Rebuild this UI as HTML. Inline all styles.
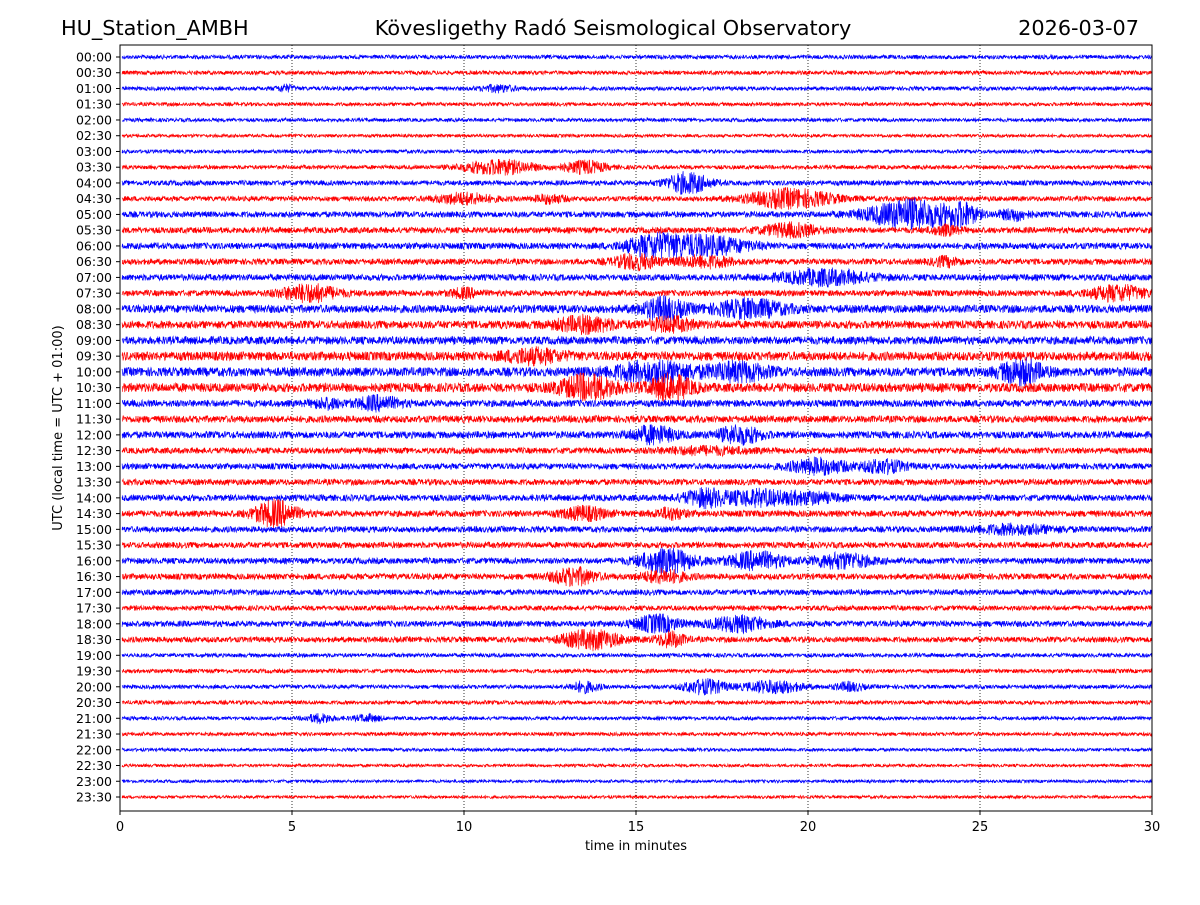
<!DOCTYPE html>
<html><head><meta charset="utf-8"><style>
body{margin:0;background:#fff;}
svg text{font-family:"DejaVu Sans","Liberation Sans",sans-serif;}
</style></head><body>
<svg id="c" width="1200" height="900" xmlns="http://www.w3.org/2000/svg">
<rect width="1200" height="900" fill="#fff"/>
<text x="61" y="35" font-size="20.8">HU_Station_AMBH</text>
<text x="613" y="35" font-size="20.8" text-anchor="middle">Kövesligethy Radó Seismological Observatory</text>
<text x="1139" y="35" font-size="20.8" text-anchor="end">2026-03-07</text>
<g id="grid"></g>
<g id="traces"></g>
<rect x="120" y="45" width="1032" height="766" fill="none" stroke="#000" stroke-width="1"/>
<g id="yticks"></g>
<g id="xticks"></g>
<text x="636" y="850" font-size="13" text-anchor="middle">time in minutes</text>
<text transform="translate(62,428) rotate(-90)" font-size="13" text-anchor="middle">UTC (local time = UTC + 01:00)</text>
</svg>
<script>
const rowLabels=["00:00","00:30","01:00","01:30","02:00","02:30","03:00","03:30","04:00","04:30","05:00","05:30","06:00","06:30","07:00","07:30","08:00","08:30","09:00","09:30","10:00","10:30","11:00","11:30","12:00","12:30","13:00","13:30","14:00","14:30","15:00","15:30","16:00","16:30","17:00","17:30","18:00","18:30","19:00","19:30","20:00","20:30","21:00","21:30","22:00","22:30","23:00","23:30"];
const xTicks=[0,5,10,15,20,25,30];
const baseAmp=[2,2,2,1.8,1.8,1.6,1.8,2,2.5,2.5,3,3,3.2,3,3.2,3,4,4,4,4.5,4.5,4.5,3.5,3.5,3.5,3,3,3,3.2,3.2,3,3,3,3,2.8,2.5,3,2.8,2,2,2,2,1.8,1.8,1.6,1.5,1.5,1.5];
// events: [row, centerMinute, durationMinutes, amplitudePx]
const events=[[2,4.8,0.6,3],[2,11,1.2,3],[7,11,2.5,7],[7,13.5,1.5,6],[8,16.5,1.5,10],[9,10,2,5],[9,12.5,1,4],[9,19.5,3,9],[10,23,3,14],[10,24.5,1,9],[10,26,1,5],[11,19.5,2,6],[11,24,1,4],[12,15.5,2,9],[12,17,3,9],[13,15,1.5,7],[13,17,2,5],[13,24,1,4],[14,20.5,3,7],[15,5.5,2,8],[15,10,1,4],[15,29,2,7],[16,15.8,1.5,10],[16,18.3,2.5,8],[17,13.5,2,7],[17,16,1.5,6],[19,12,2,6],[20,15.5,3,9],[20,18,2,8],[20,26.2,1.5,11],[21,13.6,2,11],[21,16,1.5,11],[22,7.5,1.5,6],[22,6,1,4],[24,15.5,1.5,8],[24,18,1.5,8],[25,17,3,3],[26,20.3,2,7],[26,22.2,1.5,6],[28,17,1.5,8],[28,18.5,2,7],[28,20,2,5],[29,4.5,1.5,12],[29,13.5,1.5,6],[29,16,1,5],[30,26,3,4],[32,15.9,2,11],[32,18.5,2,8],[32,21,2,7],[33,13.2,1.5,8],[33,15.8,1.5,6],[36,15.6,1.5,8],[36,18,2,7],[37,13.7,2,9],[37,16,1,7],[40,13.5,1,5],[40,17,1.5,7],[40,19,2,6],[40,21.2,1,4],[42,5.8,1,4],[42,7.2,1,3]];

const X0=120,X1=1152,Y0=57,Y1=797,XMAX=30;
const xOf=m=>X0+m/XMAX*(X1-X0);
const yOf=r=>Y0+r*(Y1-Y0)/(rowLabels.length-1);
const NS="http://www.w3.org/2000/svg";
function mk(tag,attrs,parent){const e=document.createElementNS(NS,tag);for(const k in attrs)e.setAttribute(k,attrs[k]);parent.appendChild(e);return e;}
const grid=document.getElementById('grid'),tr=document.getElementById('traces'),yt=document.getElementById('yticks'),xt=document.getElementById('xticks');
xTicks.forEach(t=>{
  if(t>0&&t<XMAX){const l=mk('line',{x1:xOf(t),x2:xOf(t),y1:45,y2:811,stroke:'#000','stroke-width':0.8,'stroke-dasharray':'1,2'},grid);
  
  }
  const tk=mk('line',{x1:xOf(t),x2:xOf(t),y1:811,y2:815,stroke:'#000'},xt);
  
  
  const tx=mk('text',{x:xOf(t),y:831,'font-size':13,'text-anchor':'middle'},xt);tx.textContent=t;
  
  
});
// deterministic jitter generator (texture only)
let s=12345;function rnd(){s=(s*1103515245+12345)&0x7fffffff;return s/0x7fffffff*2-1;}
rowLabels.forEach((lab,r)=>{
  const y=yOf(r);
  const tk=mk('line',{x1:116,x2:120,y1:y,y2:y,stroke:'#000'},yt);
  
  
  const tx=mk('text',{x:112,y:y+4.5,'font-size':12.5,'text-anchor':'end'},yt);tx.textContent=lab;
  
  
  const evs=events.filter(e=>e[0]===r);
  let pts=[];
  const xs=xOf(0.06),xe=X1;
  for(let x=xs;x<=xe;x+=0.34){
    const m=(x-X0)/(X1-X0)*XMAX;
    let a=baseAmp[r];
    evs.forEach(e=>{const d=(m-e[1])/(e[2]/2);a+=e[3]*Math.exp(-d*d*1.5);});
    pts.push(x.toFixed(1)+','+(y+rnd()*a).toFixed(1));
  }
  const p=mk('polyline',{points:pts.join(' '),fill:'none',stroke:r%2?'#ff0000':'#0000ff','stroke-width':0.7},tr);
  
  
});
</script>
</body></html>
